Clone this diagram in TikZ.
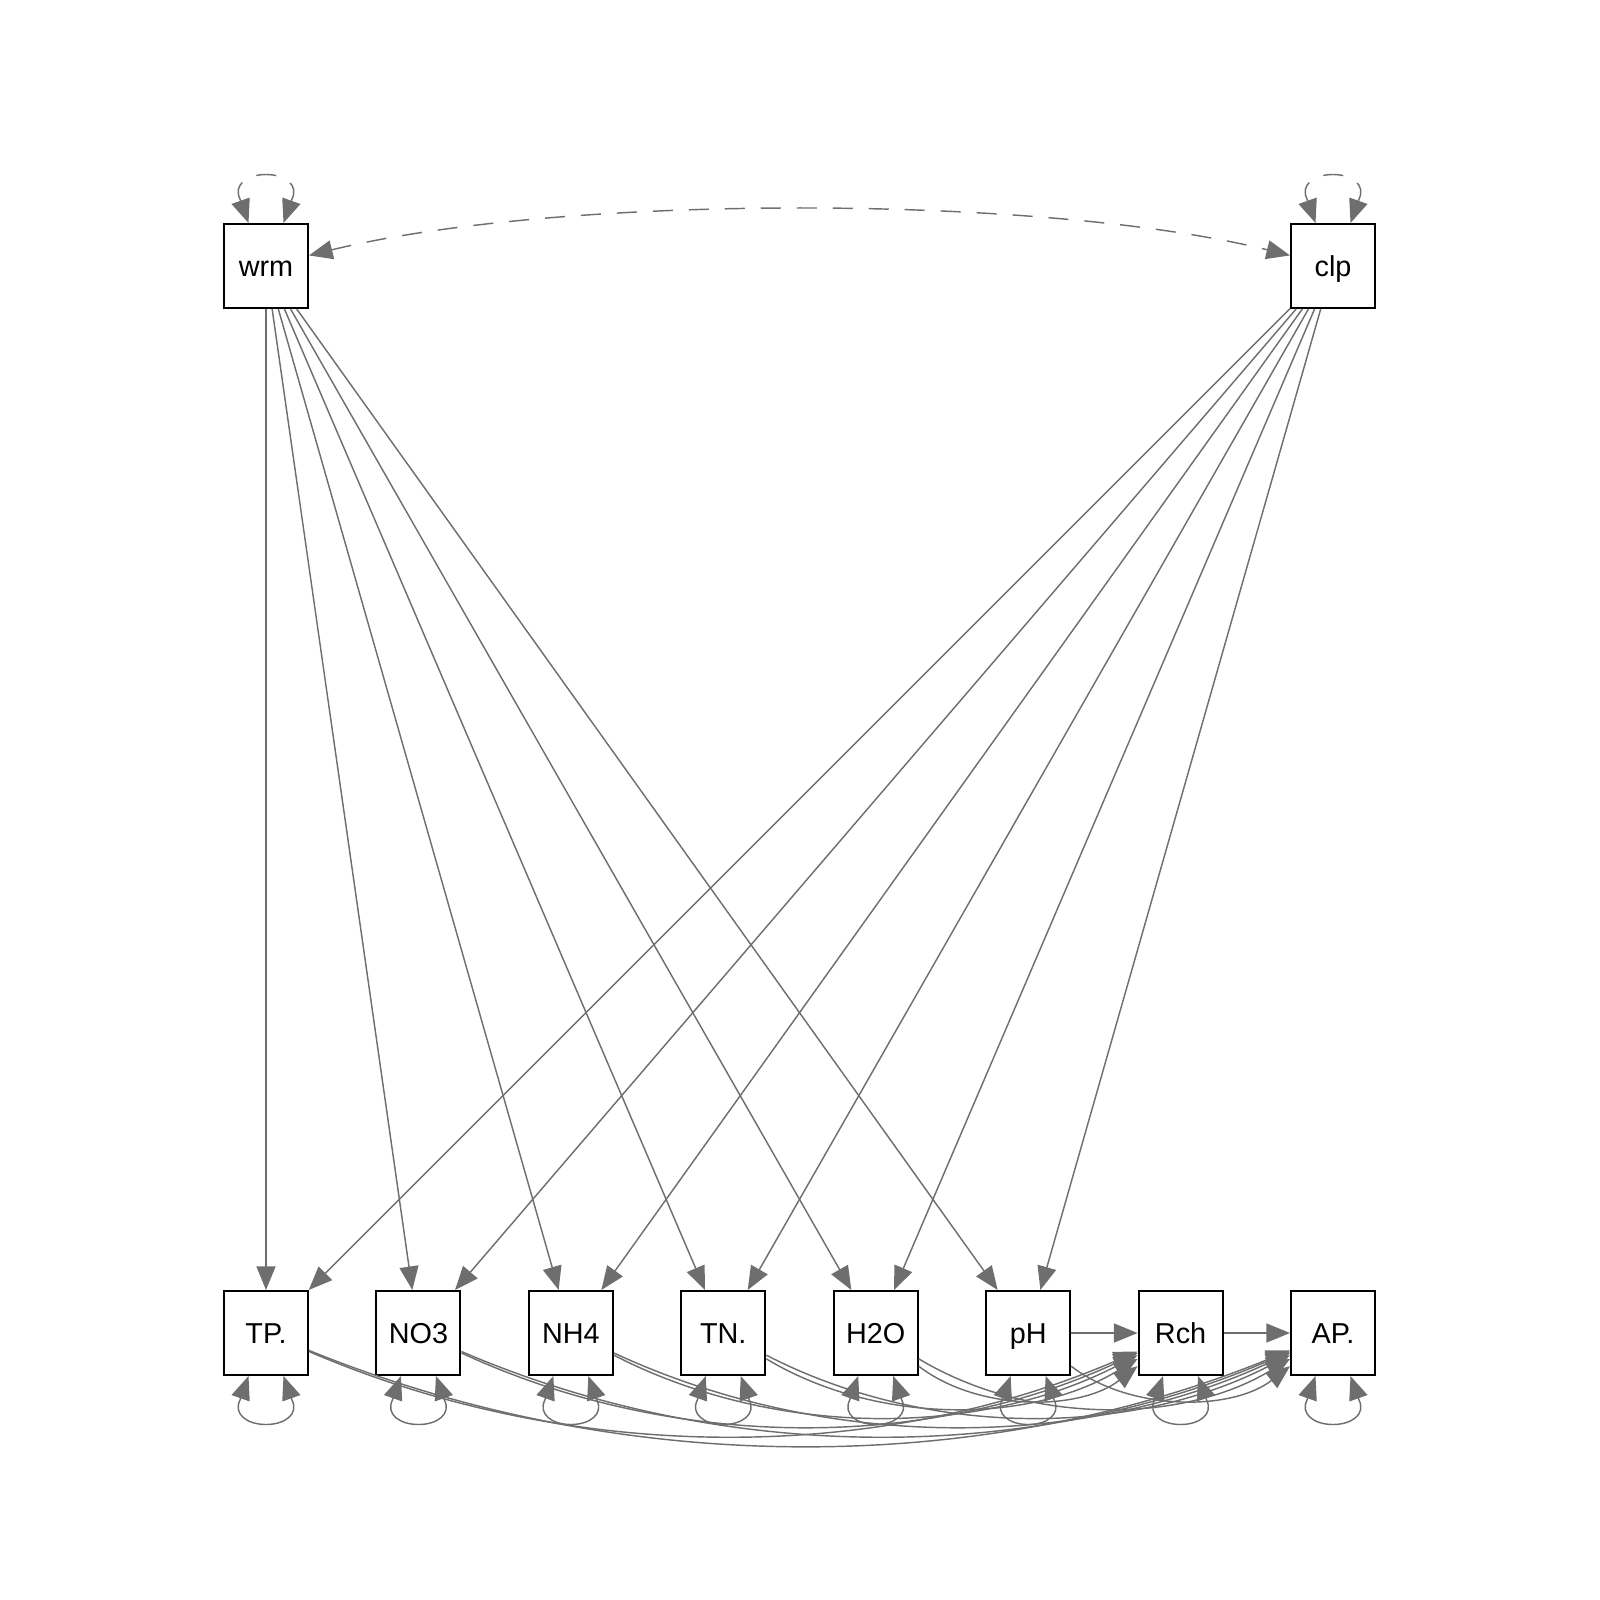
\documentclass[tikz,border=0pt]{standalone}
\usepackage{fontspec}
\setmainfont{Liberation Sans}
\usetikzlibrary{arrows.meta}
\definecolor{edgegray}{RGB}{110,110,110}
\begin{document}
\begin{tikzpicture}[x=0.5pt,y=-0.5pt,
  var/.style={draw=black, line width=1pt, fill=white, minimum size=42pt, inner sep=0pt,
    text height=10.35pt, text depth=0pt, font=\fontsize{14.4pt}{17pt}\selectfont},
  tipA/.tip={Triangle[length=11.8pt,width=9.5pt]},
  edge/.style={draw=edgegray, line width=0.72pt, -tipA},
  twoway/.style={draw=edgegray, line width=0.72pt, tipA-tipA},
  dashedge/.style={twoway, dash pattern=on 10pt off 8pt}]
\useasboundingbox (0,0) rectangle (1600,1600);

% nodes
\node[var] (wrm) at (266,266) {wrm};
\node[var] (clp) at (1333,266) {clp};
\node[var] (tp)  at (266,1333) {TP.};
\node[var] (no3) at (418.43,1333) {NO3};
\node[var] (nh4) at (570.86,1333) {NH4};
\node[var] (tn)  at (723.29,1333) {TN.};
\node[var] (hto) at (875.72,1333) {H2O};
\node[var] (ph)  at (1028.15,1333) {pH};
\node[var] (rch) at (1180.58,1333) {Rch};
\node[var] (ap)  at (1333,1333) {AP.};

% exogenous -> endogenous
\foreach \t in {tp,no3,nh4,tn,hto,ph}{
  \draw[edge] (wrm) -- (\t);
  \draw[edge] (clp) -- (\t);
}

% covariance wrm <-> clp
\draw[dashedge] (wrm) .. controls (559,194) and (1041,194) .. (clp);

% straight regressions
\draw[edge] (ph) -- (rch);
\draw[edge] (rch) -- (ap);

% curved regressions
\foreach \a/\i/\b/\j in {tp/0/rch/6, tp/0/ap/7, no3/1/rch/6, no3/1/ap/7, nh4/2/rch/6, nh4/2/ap/7,
    tn/3/rch/6, tn/3/ap/7, hto/4/rch/6, hto/4/ap/7, ph/5/ap/7}{
  \pgfmathsetmacro\xs{266+152.43*\i}
  \pgfmathsetmacro\xt{266+152.43*\j}
  \pgfmathsetmacro\dd{\xt-\xs}
  \pgfmathsetmacro\cy{1333+2/3*(78+0.13*\dd)}
  \draw[edge] (\a) .. controls (\xs+\dd/3,\cy) and (\xt-\dd/3,\cy) .. (\b);
}

% variances (top, dashed)
\foreach \n in {wrm,clp}{
  \draw[dashedge, shift={(\n.north)}] (-17.5,0) -- (-26,-24) .. controls (-33,-38) and (-19,-48.5) .. (0,-48.5)
    .. controls (19,-48.5) and (33,-38) .. (26,-24) -- (17.5,0);
}
% variances (bottom, solid)
\foreach \n in {tp,no3,nh4,tn,hto,ph,rch,ap}{
  \draw[twoway, shift={(\n.south)}] (-17.5,0) -- (-26,24) .. controls (-33,38) and (-19,48.5) .. (0,48.5)
    .. controls (19,48.5) and (33,38) .. (26,24) -- (17.5,0);
}
\end{tikzpicture}
\end{document}
